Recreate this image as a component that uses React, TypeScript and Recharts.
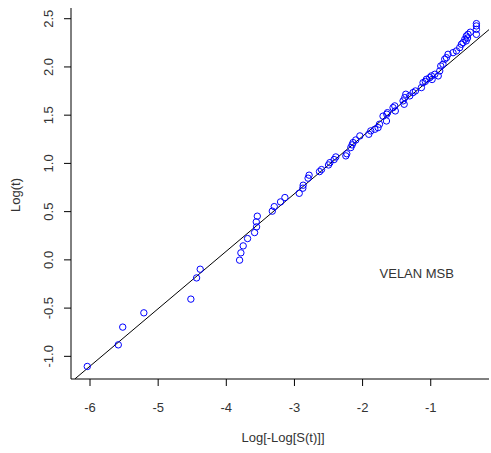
import React from 'react';
import { ScatterChart, Scatter, XAxis, YAxis, ReferenceLine, Customized } from 'recharts';

const xValues = [
  -6.04, -5.585, -5.52, -5.21, -4.52, -4.436, -4.383, -3.805, -3.786, -3.752,
  -3.688, -3.585, -3.556, -3.56, -3.545, -3.325, -3.296, -3.204, -3.14, -2.93,
  -2.877, -2.872, -2.8, -2.785, -2.632, -2.603, -2.5, -2.48, -2.418, -2.393,
  -2.246, -2.232, -2.173, -2.154, -2.14, -2.1, -2.04, -1.909, -1.88, -1.82,
  -1.773, -1.752, -1.7, -1.65, -1.645, -1.635, -1.553, -1.528, -1.52, -1.406,
  -1.39, -1.381, -1.366, -1.308, -1.26, -1.225, -1.137, -1.113, -1.08, -1.063,
  -1.015, -0.99, -0.98, -0.94, -0.89, -0.868, -0.853, -0.82, -0.795, -0.77,
  -0.746, -0.673, -0.623, -0.575, -0.55, -0.526, -0.5, -0.48, -0.477, -0.46,
  -0.453, -0.42, -0.33, -0.33, -0.33, -0.33,
];
const yValues = [
  -1.105, -0.881, -0.697, -0.549, -0.407, -0.187, -0.097, -0.003, 0.073, 0.145,
  0.221, 0.283, 0.342, 0.394, 0.453, 0.505, 0.552, 0.601, 0.646, 0.69,
  0.743, 0.774, 0.847, 0.878, 0.915, 0.936, 0.984, 1.008, 1.04, 1.067,
  1.078, 1.1, 1.164, 1.192, 1.216, 1.243, 1.285, 1.302, 1.337, 1.354,
  1.371, 1.406, 1.49, 1.44, 1.51, 1.526, 1.578, 1.596, 1.544, 1.648,
  1.613, 1.682, 1.717, 1.7, 1.734, 1.751, 1.786, 1.837, 1.85, 1.872,
  1.889, 1.907, 1.87, 1.924, 1.907, 1.959, 2.01, 2.028, 2.08, 2.096,
  2.131, 2.148, 2.166, 2.2, 2.235, 2.252, 2.287, 2.27, 2.321, 2.3,
  2.338, 2.36, 2.338, 2.39, 2.425, 2.449,
];

const xTicks = [-6, -5, -4, -3, -2, -1];
const yTicks = [-1.0, -0.5, 0.0, 0.5, 1.0, 1.5, 2.0, 2.5];
const xDomain = [-6.279, -0.145];
const yDomain = [-1.235, 2.611];
const fitStart = { x: -6.22, y: -1.233 };
const fitEnd = { x: -0.116, y: 2.404 };

const xTitle = 'Log[-Log[S(t)]]';
const yTitle = 'Log(t)';
const annotation = 'VELAN MSB';
const annotationPos = { x: -1.205, y: -0.135 };

const data = xValues.map((x, i) => ({ x, y: yValues[i] }));

const FONT = '"Liberation Sans", Arial, sans-serif';
const TEXT_COLOR = '#333';

const CircleShape = (props: any) => (
  <circle cx={props.cx} cy={props.cy} r={3.2} fill="none" stroke="#0000ff" strokeWidth={1} />
);

const XTick = (props: any) => (
  <text x={props.x} y={props.y + 24} textAnchor="middle" fontSize={13} fontFamily={FONT} fill={TEXT_COLOR}>
    {String(props.payload.value)}
  </text>
);

const YTick = (props: any) => {
  const cx = 49;
  const cy = props.y;
  return (
    <text
      x={cx}
      y={cy}
      transform={`rotate(-90 ${cx} ${cy})`}
      textAnchor="middle"
      dominantBaseline="central"
      fontSize={13}
      fontFamily={FONT}
      fill={TEXT_COLOR}
    >
      {Number(props.payload.value).toFixed(1)}
    </text>
  );
};

const Titles = (props: any) => {
  return (
    <g>
      <text x={283} y={442} textAnchor="middle" fontSize={13} fontFamily={FONT} fill={TEXT_COLOR}>
        {xTitle}
      </text>
      <text
        x={15}
        y={195}
        transform="rotate(-90 15 195)"
        textAnchor="middle"
        dominantBaseline="central"
        fontSize={13}
        fontFamily={FONT}
        fill={TEXT_COLOR}
      >
        {yTitle}
      </text>
    </g>
  );
};

export default function App() {
  return (
    <div style={{ position: 'absolute', left: 0, top: 0, width: 491, height: 453, background: '#fff' }}>
      <ScatterChart width={491} height={453} margin={{ top: 8, right: 2, bottom: 0, left: 0 }}>
        <XAxis
          type="number"
          dataKey="x"
          domain={xDomain}
          ticks={xTicks}
          allowDataOverflow
          height={74}
          tickSize={7}
          tickMargin={2}
          tick={<XTick />}
          axisLine={{ stroke: '#000', strokeWidth: 1 }}
          tickLine={{ stroke: '#000', strokeWidth: 1 }}
        />
        <YAxis
          type="number"
          dataKey="y"
          domain={yDomain}
          ticks={yTicks}
          allowDataOverflow
          width={71}
          tickSize={7}
          tickMargin={2}
          tick={<YTick />}
          axisLine={{ stroke: '#000', strokeWidth: 1 }}
          tickLine={{ stroke: '#000', strokeWidth: 1 }}
        />
        <ReferenceLine
          segment={[fitStart, fitEnd]}
          stroke="#000"
          strokeWidth={1}
          ifOverflow="hidden"
        />
        <Scatter data={data} shape={<CircleShape />} isAnimationActive={false} />
        <ReferenceLine
          segment={[annotationPos, annotationPos]}
          stroke="none"
          ifOverflow="visible"
          label={{ value: annotation, position: 'center', fontSize: 13, fontFamily: FONT, fill: TEXT_COLOR }}
        />
        <Customized component={Titles} />
      </ScatterChart>
    </div>
  );
}
